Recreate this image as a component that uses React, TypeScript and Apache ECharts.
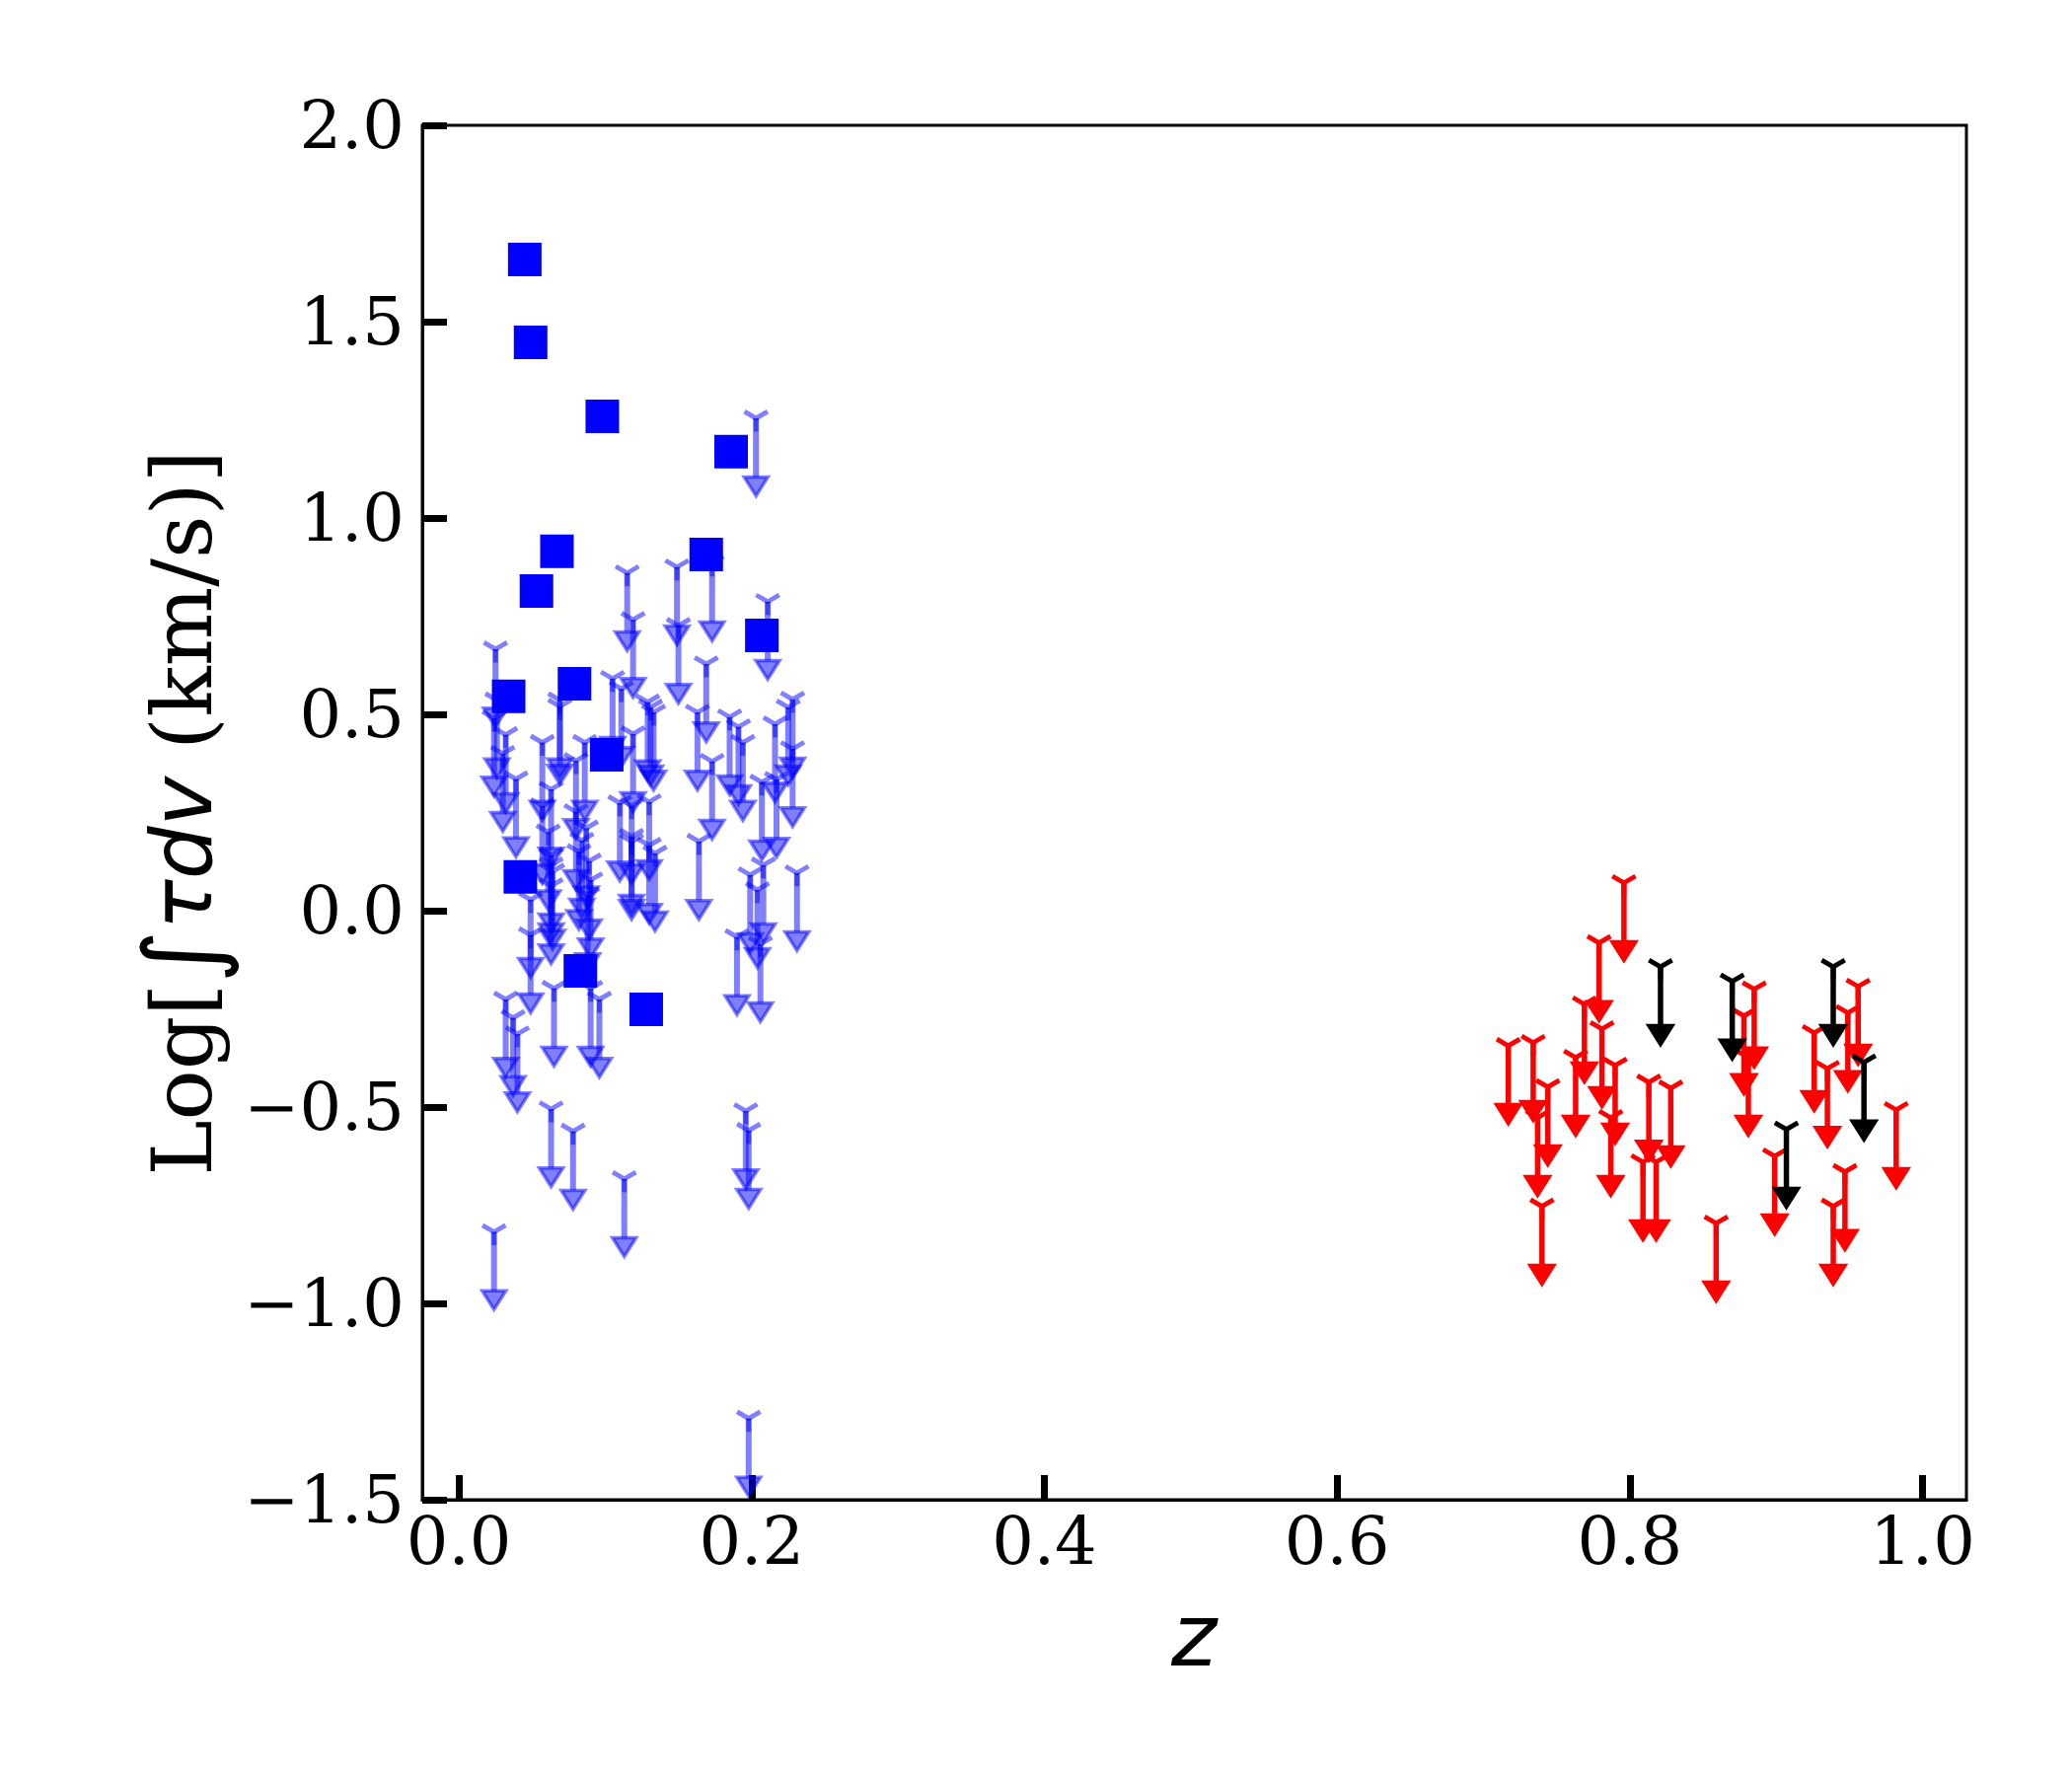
import React, { useEffect, useRef } from "react";
import * as echarts from "echarts";

// ---------- data ----------
const xTicks = [0, 0.2, 0.4, 0.6, 0.8, 1.0];

// detections (blue squares)
const detZ = [0.045, 0.049, 0.098, 0.186, 0.067, 0.053, 0.169, 0.207, 0.034, 0.079, 0.101, 0.042, 0.083, 0.128];
const detTau = [1.658, 1.447, 1.259, 1.169, 0.915, 0.814, 0.907, 0.701, 0.546, 0.578, 0.397, 0.086, -0.153, -0.251];

// low-z upper limits (translucent blue)
const blueLimZ = [
  0.203, 0.115, 0.149, 0.211, 0.025, 0.119, 0.150, 0.173, 0.169, 0.105,
  0.111, 0.069, 0.069, 0.129, 0.131, 0.133, 0.026, 0.024, 0.032, 0.030,
  0.057, 0.086, 0.080, 0.119, 0.163, 0.185, 0.191, 0.194, 0.216, 0.228,
  0.225, 0.228, 0.173, 0.039, 0.057, 0.063, 0.080, 0.087, 0.110, 0.118,
  0.130, 0.207, 0.217, 0.164, 0.084, 0.082, 0.089, 0.090, 0.088, 0.063,
  0.063, 0.064, 0.061, 0.063, 0.118, 0.118, 0.130, 0.134, 0.199, 0.208,
  0.204, 0.231, 0.049, 0.049, 0.190, 0.206, 0.032, 0.037, 0.040, 0.065,
  0.090, 0.096, 0.063, 0.196, 0.198, 0.078, 0.113, 0.024, 0.198,
];
const blueLimTau = [
  1.254, 0.860, 0.875, 0.787, 0.666, 0.741, 0.726, 0.885, 0.628, 0.591,
  0.565, 0.536, 0.520, 0.531, 0.518, 0.505, 0.536, 0.490, 0.448, 0.400,
  0.428, 0.428, 0.382, 0.450, 0.505, 0.493, 0.468, 0.428, 0.475, 0.538,
  0.518, 0.412, 0.380, 0.335, 0.267, 0.309, 0.252, 0.210, 0.274, 0.267,
  0.277, 0.327, 0.334, 0.176, 0.179, 0.150, 0.126, 0.078, 0.040, 0.141,
  0.116, 0.100, 0.200, 0.063, 0.176, 0.189, 0.166, 0.146, 0.091, 0.116,
  0.053, 0.096, 0.028, -0.062, -0.067, -0.085, -0.226, -0.273, -0.314, -0.198,
  -0.198, -0.226, -0.505, -0.510, -0.560, -0.562, -0.683, -0.818, -1.293,
];

// high-z upper limits (red)
const redLimZ = [
  0.796, 0.779, 0.769, 0.781, 0.717, 0.734, 0.744, 0.763, 0.790, 0.813,
  0.828, 0.809, 0.818, 0.740, 0.737, 0.787, 0.885, 0.878, 0.881, 0.926,
  0.935, 0.956, 0.949, 0.982, 0.899, 0.947, 0.939, 0.859,
];
const redLimTau = [
  0.071, -0.082, -0.238, -0.301, -0.344, -0.336, -0.449, -0.374, -0.394, -0.437,
  -0.452, -0.640, -0.640, -0.753, -0.527, -0.527, -0.200, -0.268, -0.374, -0.311,
  -0.402, -0.193, -0.260, -0.507, -0.625, -0.665, -0.753, -0.796,
];

// high-z upper limits (black)
const blackLimZ = [0.821, 0.870, 0.939, 0.960, 0.907];
const blackLimTau = [-0.143, -0.180, -0.143, -0.386, -0.557];

const ARROW_LEN = 0.15; // length of the upper-limit bar, in dex

const pairs = (xs: number[], ys: number[]) => xs.map((x, i) => [x, ys[i]]);

function limitRenderer(color: string, barWidth: number) {
  return (params: any, api: any) => {
    const x = api.value(0);
    const y = api.value(1);
    const top = api.coord([x, y]);
    const bot = api.coord([x, y - ARROW_LEN]);
    const r = 13.5;
    const hw = 12;
    const h = 19;
    return {
      type: "group",
      children: [
        {
          type: "line",
          shape: { x1: top[0], y1: top[1], x2: bot[0], y2: bot[1] },
          style: { stroke: color, lineWidth: barWidth },
        },
        {
          type: "polyline",
          shape: {
            points: [
              [top[0] - 0.866 * r, top[1] - 0.5 * r],
              [top[0], top[1]],
              [top[0] + 0.866 * r, top[1] - 0.5 * r],
            ],
          },
          style: { stroke: color, lineWidth: 4.8, fill: null },
        },
        {
          type: "line",
          shape: { x1: top[0], y1: top[1], x2: top[0], y2: top[1] + r },
          style: { stroke: color, lineWidth: 4.8 },
        },
        {
          type: "polygon",
          shape: {
            points: [
              [bot[0] - hw, bot[1]],
              [bot[0] + hw, bot[1]],
              [bot[0], bot[1] + h],
            ],
          },
          style: { fill: color, stroke: color, lineWidth: 3.5, lineJoin: "miter" },
        },
      ],
    };
  };
}

const fmt = (v: number) => (v < 0 ? "\u2212" : "") + Math.abs(v).toFixed(1);

export default function App() {
  const ref = useRef<HTMLDivElement>(null);
  useEffect(() => {
    if (!ref.current) return;
    const chart = echarts.init(ref.current, null, { renderer: "svg" });
    const tickFont = { fontFamily: "DejaVu Serif", fontSize: 67, color: "#000" };
    chart.setOption({
      animation: false,
      backgroundColor: "#fff",
      grid: {
        left: 428,
        right: 107,
        top: 127,
        bottom: 280,
        show: true,
        borderColor: "#000",
        borderWidth: 3,
        backgroundColor: "transparent",
      },
      xAxis: {
        type: "value",
        min: -0.025,
        max: 1.03,
        splitLine: { show: false },
        axisLine: { onZero: false, lineStyle: { color: "#000", width: 3 } },
        axisTick: {
          inside: true,
          length: 25,
          customValues: xTicks,
          lineStyle: { color: "#000", width: 7 },
        },
        axisLabel: {
          ...tickFont,
          margin: 8,
          customValues: xTicks,
          formatter: (v: number) => v.toFixed(1),
        },
      },
      yAxis: {
        type: "value",
        min: -1.5,
        max: 2.0,
        interval: 0.5,
        splitLine: { show: false },
        axisLine: { onZero: false, lineStyle: { color: "#000", width: 3 } },
        axisTick: { inside: true, length: 25, lineStyle: { color: "#000", width: 7 } },
        axisLabel: { ...tickFont, margin: 18, formatter: fmt },
      },
      graphic: [
        {
          type: "text",
          x: 184,
          y: 824,
          rotation: Math.PI / 2,
          style: {
            text: "{a|Log[}{b|\u222B}{c|\u03C4dv}{a| (km/s)]}",
            align: "center",
            verticalAlign: "middle",
            rich: {
              a: { fontFamily: "DejaVu Serif", fontSize: 85, fill: "#000" },
              b: { fontFamily: "DejaVu Sans", fontSize: 104, fill: "#000" },
              c: { fontFamily: "DejaVu Sans", fontStyle: "italic", fontSize: 85, fill: "#000" },
            },
          },
        },
        {
          type: "text",
          x: 1210,
          y: 1657,
          style: {
            text: "z",
            fontFamily: "DejaVu Sans",
            fontStyle: "italic",
            fontSize: 88,
            fill: "#000",
            align: "center",
            verticalAlign: "middle",
          },
        },
      ],
      series: [
        {
          type: "custom",
          name: "low-z limits",
          data: pairs(blueLimZ, blueLimTau),
          renderItem: limitRenderer("rgba(0,0,255,0.5)", 6),
          encode: { x: 0, y: 1 },
        },
        {
          type: "scatter",
          name: "detections",
          data: pairs(detZ, detTau),
          symbol: "rect",
          symbolSize: 34,
          itemStyle: { color: "#0000ff", opacity: 1 },
        },
        {
          type: "custom",
          name: "high-z limits red",
          data: pairs(redLimZ, redLimTau),
          renderItem: limitRenderer("#ff0000", 5.5),
          encode: { x: 0, y: 1 },
        },
        {
          type: "custom",
          name: "high-z limits black",
          data: pairs(blackLimZ, blackLimTau),
          renderItem: limitRenderer("#000000", 5.5),
          encode: { x: 0, y: 1 },
        },
      ],
    });
    return () => chart.dispose();
  }, []);
  return (
    <div
      ref={ref}
      style={{ position: "absolute", left: 0, top: 0, width: 2100, height: 1800 }}
    />
  );
}
